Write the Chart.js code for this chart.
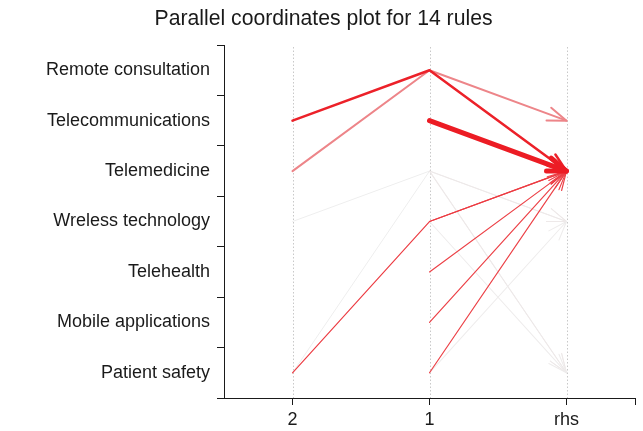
<!DOCTYPE html>
<html><head><meta charset="utf-8">
<script src="https://cdn.jsdelivr.net/npm/chart.js@4.4.0/dist/chart.umd.min.js"></script>
<style>html,body{margin:0;padding:0;background:#fff}#wrap{width:643px;height:431px}</style>
</head><body><div id="wrap"><canvas id="c" width="643" height="431"></canvas></div>
<script>
// Categories (y axis, top to bottom) and positions (x axis)
const items = ['Remote consultation','Telecommunications','Telemedicine','Wreless technology','Telehealth','Mobile applications','Patient safety'];
const positions = ['2','1','rhs'];
const titleText = 'Parallel coordinates plot for 14 rules';

// 14 rules: lhs item at position "2" (or null), lhs item at position "1", rhs item
const ruleLhs2 = ['Wreless technology','Patient safety',null,null,null,null,'Telemedicine',null,null,null,'Patient safety',null,'Telecommunications',null];
const ruleLhs1 = ['Telemedicine','Telemedicine','Telemedicine','Telemedicine','Wreless technology','Patient safety','Remote consultation','Wreless technology','Telehealth','Mobile applications','Wreless technology','Patient safety','Remote consultation','Telecommunications'];
const ruleRhs  = ['Patient safety','Wreless technology','Wreless technology','Patient safety','Patient safety','Wreless technology','Telecommunications','Telemedicine','Telemedicine','Telemedicine','Telemedicine','Telemedicine','Telemedicine','Telemedicine'];
const ruleSupport = [0.020,0.020,0.025,0.025,0.022,0.022,0.090,0.032,0.032,0.032,0.030,0.032,0.125,0.300];
const ruleLift    = [1.00,1.00,1.05,1.05,1.02,1.02,2.00,2.65,2.65,2.65,2.70,2.65,2.95,3.00];

const sMin = Math.min(...ruleSupport), sMax = Math.max(...ruleSupport);
const lMin = Math.min(...ruleLift), lMax = Math.max(...ruleLift);
const LOW = [238, 238, 238], HIGH = [236, 28, 36];
function widthFor(s){ return 1 + 4*(s - sMin)/(sMax - sMin); }
function colorFor(l){
  const t = (l - lMin)/(lMax - lMin);
  const c = LOW.map((v, k) => Math.round(v + (HIGH[k] - v)*t));
  return 'rgb(' + c.join(',') + ')';
}

const datasets = ruleLhs1.map((l1, i) => {
  const data = [];
  if (ruleLhs2[i]) data.push({x: 0, y: ruleLhs2[i]});
  data.push({x: 1, y: l1});
  data.push({x: 2, y: ruleRhs[i]});
  return {
    data: data,
    borderColor: colorFor(ruleLift[i]),
    borderWidth: widthFor(ruleSupport[i]),
    pointRadius: 0,
    tension: 0,
    fill: false,
    borderCapStyle: 'round',
    borderJoinStyle: 'round',
    order: -i
  };
});

const FONT = 'Liberation Sans, Arial, Helvetica, sans-serif';
const INK = '#1a1a1a';

const dottedGrid = {
  id: 'dottedGrid',
  beforeDatasetsDraw(chart) {
    const {ctx, chartArea} = chart;
    const xs = chart.scales.x;
    ctx.save();
    ctx.strokeStyle = '#c8c8c8';
    ctx.lineWidth = 1;
    ctx.setLineDash([1.5, 2]);
    positions.forEach((p, i) => {
      const px = Math.round(xs.getPixelForValue(i)) + 0.5;
      ctx.beginPath();
      ctx.moveTo(px, chartArea.top + 2);
      ctx.lineTo(px, chartArea.bottom);
      ctx.stroke();
    });
    ctx.restore();
  }
};

const arrowHeads = {
  id: 'arrowHeads',
  afterDatasetDraw(chart, args) {
    const pts = args.meta.data;
    const ds = chart.data.datasets[args.index];
    if (pts.length < 2) return;
    const a = pts[pts.length - 2], b = pts[pts.length - 1];
    const ang = Math.atan2(b.y - a.y, b.x - a.x);
    const L = 20, th = 20 * Math.PI / 180;
    const ctx = chart.ctx;
    ctx.save();
    ctx.strokeStyle = ds.borderColor;
    ctx.lineWidth = ds.borderWidth;
    ctx.lineCap = 'round';
    ctx.lineJoin = 'round';
    ctx.beginPath();
    ctx.moveTo(b.x - L*Math.cos(ang - th), b.y - L*Math.sin(ang - th));
    ctx.lineTo(b.x, b.y);
    ctx.lineTo(b.x - L*Math.cos(ang + th), b.y - L*Math.sin(ang + th));
    ctx.stroke();
    ctx.restore();
  }
};

new Chart(document.getElementById('c'), {
  type: 'line',
  data: { datasets: datasets },
  options: {
    responsive: false,
    animation: false,
    layout: { padding: { left: 12, right: 8, top: 0, bottom: 0 } },
    plugins: {
      legend: { display: false },
      tooltip: { enabled: false },
      title: {
        display: true,
        text: titleText,
        color: INK,
        font: { family: FONT, size: 21.2, weight: 'normal', lineHeight: 1.2 },
        padding: { top: 6.8, bottom: 12.8 }
      }
    },
    scales: {
      x: {
        type: 'linear',
        min: -0.5,
        max: 2.5,
        afterBuildTicks(scale) {
          scale.ticks = [0, 1, 2, 2.5].map(v => ({ value: v }));
        },
        afterFit(scale) { scale.height = 33; },
        ticks: {
          autoSkip: false,
          maxRotation: 0,
          padding: 4,
          color: INK,
          font: { family: FONT, size: 18 },
          callback: (v) => (Number.isInteger(v) && positions[v] !== undefined) ? positions[v] : ''
        },
        grid: { drawOnChartArea: false, tickLength: 7, tickColor: INK, tickWidth: 1 },
        border: { display: true, color: INK, width: 1 }
      },
      y: {
        type: 'category',
        labels: items,
        offset: true,
        afterFit(scale) { scale.width = 212; },
        ticks: {
          autoSkip: false,
          padding: 7,
          color: INK,
          font: { family: FONT, size: 18 }
        },
        grid: { offset: true, drawOnChartArea: false, tickLength: 7, tickColor: INK, tickWidth: 1 },
        border: { display: true, color: INK, width: 1 }
      }
    }
  },
  plugins: [dottedGrid, arrowHeads]
});
</script>
</body></html>
